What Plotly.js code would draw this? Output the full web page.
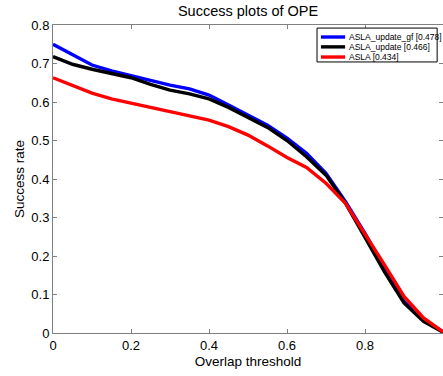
<!DOCTYPE html>
<html>
<head>
<meta charset="utf-8">
<script src="https://cdn.plot.ly/plotly-3.0.1.min.js"></script>
<style>html,body{margin:0;padding:0;background:#fff;}#chart{width:443px;height:376px;}</style>
</head>
<body>
<div id="chart"></div>
<script>
const thresholds = [0,0.05,0.1,0.15,0.2,0.25,0.3,0.35,0.4,0.45,0.5,0.55,0.6,0.65,0.7,0.75,0.8,0.85,0.9,0.95,1];
const seriesNames = ["ASLA_update_gf", "ASLA_update", "ASLA"];
const seriesAUC = ["0.478", "0.466", "0.434"];
const seriesColors = ["#0000ff", "#000000", "#ff0000"];
const blueVals  = [0.750,0.722,0.696,0.681,0.668,0.655,0.644,0.634,0.618,0.592,0.566,0.540,0.506,0.467,0.415,0.341,0.259,0.168,0.082,0.035,0.003];
const blackVals = [0.718,0.698,0.685,0.674,0.663,0.646,0.631,0.621,0.608,0.586,0.560,0.534,0.500,0.458,0.410,0.337,0.248,0.159,0.078,0.030,0.002];
const redVals   = [0.663,0.644,0.623,0.608,0.597,0.584,0.573,0.564,0.553,0.536,0.514,0.486,0.456,0.430,0.389,0.337,0.259,0.177,0.095,0.039,0.003];
const xTicks = [0,0.2,0.4,0.6,0.8,1];
const yTicks = [0,0.1,0.2,0.3,0.4,0.5,0.6,0.7,0.8];

const allVals = [blueVals, blackVals, redVals];
const font = "Liberation Sans, Arial, Helvetica, sans-serif";

const traces = allVals.map((v, i) => ({
  x: thresholds, y: v, type: 'scatter', mode: 'lines',
  name: seriesNames[i] + ' [' + seriesAUC[i] + ']',
  line: {color: seriesColors[i], width: 3.4},
  showlegend: false
}));

// compact MATLAB-style legend
const shapes = [{
  type: 'rect', xref: 'paper', yref: 'paper',
  x0: 0.677, x1: 0.985, y0: 0.880, y1: 0.990,
  line: {color: '#000', width: 1}, fillcolor: '#fff'
}];
const annotations = [];
const rowY = [0.961, 0.929, 0.896];
seriesNames.forEach((n, i) => {
  shapes.push({type: 'line', xref: 'paper', yref: 'paper',
    x0: 0.687, x1: 0.749, y0: rowY[i], y1: rowY[i],
    line: {color: seriesColors[i], width: 3.4}});
  annotations.push({xref: 'paper', yref: 'paper', x: 0.754, y: rowY[i],
    xanchor: 'left', yanchor: 'middle', showarrow: false,
    text: n + ' [' + seriesAUC[i] + ']',
    font: {family: font, size: 8.5, color: '#000'}});
});

const layout = {
  width: 443, height: 376,
  margin: {l: 53, r: 0, t: 25, b: 43, pad: 0},
  paper_bgcolor: '#fff', plot_bgcolor: '#fff',
  font: {family: font, size: 13, color: '#000'},
  title: {text: 'Success plots of OPE', font: {family: font, size: 14.5, color: '#000'},
          x: 0.56, xanchor: 'center', y: 0.972, yanchor: 'middle'},
  xaxis: {
    range: [0, 1], tickvals: xTicks, ticktext: xTicks.map(String),
    showgrid: false, zeroline: false, showline: true, linecolor: '#808080', linewidth: 1,
    mirror: 'ticks', ticks: 'inside', ticklen: 4, tickcolor: '#808080',
    tickfont: {family: font, size: 13, color: '#000'},
    title: {text: 'Overlap threshold', font: {family: font, size: 13.5, color: '#000'}, standoff: 4}
  },
  yaxis: {
    range: [0, 0.8], tickvals: yTicks, ticktext: yTicks.map(String),
    showgrid: false, zeroline: false, showline: true, linecolor: '#808080', linewidth: 1,
    mirror: 'ticks', ticks: 'inside', ticklen: 4, tickcolor: '#808080',
    tickfont: {family: font, size: 13, color: '#000'},
    title: {text: 'Success rate', font: {family: font, size: 13.5, color: '#000'}, standoff: 3}
  },
  shapes: shapes,
  annotations: annotations
};

Plotly.newPlot('chart', traces, layout, {staticPlot: true, displayModeBar: false});
</script>
</body>
</html>
